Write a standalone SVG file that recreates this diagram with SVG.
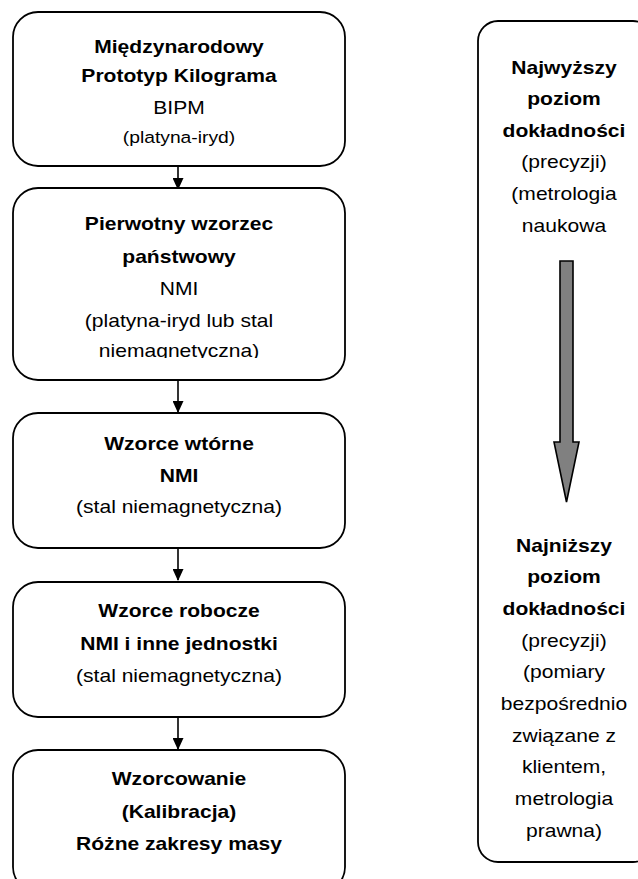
<svg xmlns="http://www.w3.org/2000/svg" width="638" height="879" viewBox="0 0 638 879">
<style>
.box{fill:#fff;stroke:#000;stroke-width:1.8}
.t{font-family:"Liberation Sans",Arial,sans-serif;font-size:18px;fill:#000;text-anchor:middle}
.b{font-weight:bold}
.s{font-size:16.5px}
.conn{stroke:#000;stroke-width:1.6;fill:none}
</style>
<defs>
<marker id="ah" markerWidth="12" markerHeight="11" refX="11" refY="5.5" orient="auto" markerUnits="userSpaceOnUse">
<path d="M0,0 L12,5.5 L0,11 Z" fill="#000"/>
</marker>
<clipPath id="c2"><rect x="0" y="188" width="360" height="170"/></clipPath>
</defs>
<g id="connectors">
<line class="conn" x1="178" y1="166" x2="178" y2="189" marker-end="url(#ah)"/>
<line class="conn" x1="178" y1="380" x2="178" y2="412" marker-end="url(#ah)"/>
<line class="conn" x1="178" y1="548" x2="178" y2="580" marker-end="url(#ah)"/>
<line class="conn" x1="178" y1="717" x2="178" y2="749" marker-end="url(#ah)"/>
</g>
<g id="n1">
<rect class="box" x="13" y="12" width="332" height="154" rx="25"/>
<g transform="translate(179,0) scale(1.17,1)">
<text class="t b" x="0" y="53">Międzynarodowy</text>
<text class="t b" x="0" y="82">Prototyp Kilograma</text>
<text class="t" x="0" y="114">BIPM</text>
<text class="t s" x="0" y="143">(platyna-iryd)</text>
</g>
</g>
<g id="n2">
<rect class="box" x="13" y="188" width="332" height="192" rx="25"/>
<g clip-path="url(#c2)">
<g transform="translate(179,0) scale(1.17,1)">
<text class="t b" x="0" y="230">Pierwotny wzorzec</text>
<text class="t b" x="0" y="263">państwowy</text>
<text class="t" x="0" y="295">NMI</text>
<text class="t" x="0" y="327">(platyna-iryd lub stal</text>
<text class="t" x="0" y="357">niemagnetyczna)</text>
</g>
</g>
</g>
<g id="n3">
<rect class="box" x="13" y="413" width="332" height="135" rx="25"/>
<g transform="translate(179,0) scale(1.17,1)">
<text class="t b" x="0" y="450">Wzorce wtórne</text>
<text class="t b" x="0" y="482">NMI</text>
<text class="t" x="0" y="513">(stal niemagnetyczna)</text>
</g>
</g>
<g id="n4">
<rect class="box" x="13" y="582" width="332" height="135" rx="25"/>
<g transform="translate(179,0) scale(1.17,1)">
<text class="t b" x="0" y="617">Wzorce robocze</text>
<text class="t b" x="0" y="650">NMI i inne jednostki</text>
<text class="t" x="0" y="682">(stal niemagnetyczna)</text>
</g>
</g>
<g id="n5">
<rect class="box" x="13" y="750" width="332" height="142" rx="25"/>
<g transform="translate(179,0) scale(1.17,1)">
<text class="t b" x="0" y="785">Wzorcowanie</text>
<text class="t b" x="0" y="818">(Kalibracja)</text>
<text class="t b" x="0" y="850">Różne zakresy masy</text>
</g>
</g>
<g id="scale">
<rect class="box" x="478" y="21" width="175" height="841" rx="20"/>
<path d="M560,261 H573 V442 H579 L566.5,502 L554,442 H560 Z" fill="#808080" stroke="#000" stroke-width="1.6"/>
<g transform="translate(564,0) scale(1.17,1)">
<text class="t b" x="0" y="74">Najwyższy</text>
<text class="t b" x="0" y="105">poziom</text>
<text class="t b" x="0" y="137">dokładności</text>
<text class="t" x="0" y="168">(precyzji)</text>
<text class="t" x="0" y="200">(metrologia</text>
<text class="t" x="0" y="232">naukowa</text>
<text class="t b" x="0" y="552">Najniższy</text>
<text class="t b" x="0" y="583">poziom</text>
<text class="t b" x="0" y="615">dokładności</text>
<text class="t" x="0" y="647">(precyzji)</text>
<text class="t" x="0" y="678">(pomiary</text>
<text class="t" x="0" y="710">bezpośrednio</text>
<text class="t" x="0" y="742">związane z</text>
<text class="t" x="0" y="773">klientem,</text>
<text class="t" x="0" y="805">metrologia</text>
<text class="t" x="0" y="837">prawna)</text>
</g>
</g>
</svg>
